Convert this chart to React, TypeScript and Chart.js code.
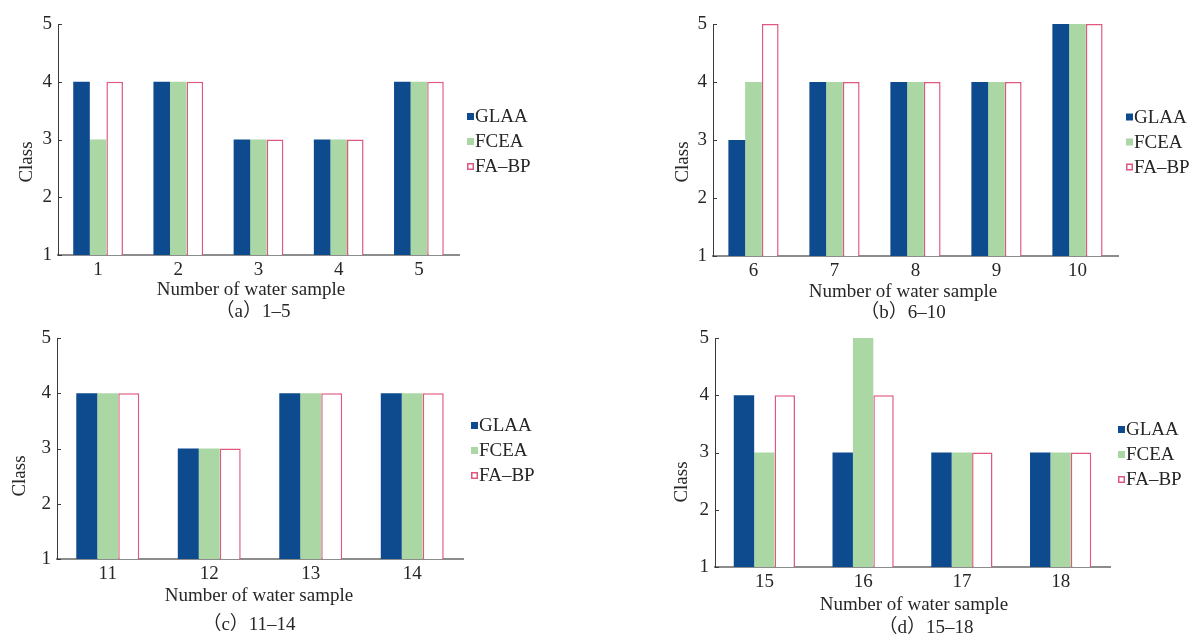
import React, { useEffect, useRef } from 'react';
import { Chart, registerables } from 'chart.js';

Chart.register(...registerables);

// ---------- data ----------
const seriesNames = ['GLAA', 'FCEA', 'FA–BP'];
const yTicks = [1, 2, 3, 4, 5];

const samplesA = ['1', '2', '3', '4', '5'];
const glaaA = [4, 4, 3, 3, 4];
const fceaA = [3, 4, 3, 3, 4];
const fabpA = [4, 4, 3, 3, 4];

const samplesB = ['6', '7', '8', '9', '10'];
const glaaB = [3, 4, 4, 4, 5];
const fceaB = [4, 4, 4, 4, 5];
const fabpB = [5, 4, 4, 4, 5];

const samplesC = ['11', '12', '13', '14'];
const glaaC = [4, 3, 4, 4];
const fceaC = [4, 3, 4, 4];
const fabpC = [4, 3, 4, 4];

const samplesD = ['15', '16', '17', '18'];
const glaaD = [4, 3, 3, 3];
const fceaD = [3, 5, 3, 3];
const fabpD = [4, 4, 3, 3];

const xAxisTitle = 'Number of water sample';
const yAxisTitle = 'Class';
const captions = ['（a）1–5', '（b）6–10', '（c）11–14', '（d）15–18'];

// ---------- style ----------
const FONT = "'Liberation Serif', 'Times New Roman', 'Noto Sans CJK SC', serif";
const TEXT = '#262626';
const FONT_SIZE = 19;
const COLORS = {
  glaa: '#0d4b8e',
  fcea: '#abd7a4',
  fabpFill: '#ffffff',
  fabpBorder: '#e0587f',
};

type Area = { l: number; t: number; r: number; b: number };
type PanelLayout = {
  left: number;
  top: number;
  width: number;
  height: number;
  area: Area;
  yTitle: [number, number];
  xTitle: [number, number];
  caption: [number, number];
};

const layouts: PanelLayout[] = [
  { left: 0, top: 0, width: 600, height: 320, area: { l: 58, t: 24, r: 459, b: 255 }, yTitle: [27, 162], xTitle: [251, 290], caption: [253, 312] },
  { left: 600, top: 0, width: 602, height: 320, area: { l: 113, t: 24, r: 518, b: 256 }, yTitle: [83, 162], xTitle: [303, 292], caption: [303, 313] },
  { left: 0, top: 320, width: 600, height: 318, area: { l: 57, t: 18, r: 463, b: 239 }, yTitle: [20, 156], xTitle: [259, 276], caption: [249, 305] },
  { left: 600, top: 320, width: 602, height: 318, area: { l: 115, t: 18, r: 510, b: 247 }, yTitle: [82, 162], xTitle: [314, 285], caption: [326, 308] },
];

type PanelProps = {
  labels: string[];
  glaa: number[];
  fcea: number[];
  fabp: number[];
  caption: string;
  layout: PanelLayout;
};

function Panel({ labels, glaa, fcea, fabp, caption, layout }: PanelProps) {
  const ref = useRef<HTMLCanvasElement>(null);

  useEffect(() => {
    if (!ref.current) return;
    const { width, height, area } = layout;

    const textPlugin = {
      id: 'panelTexts',
      afterDraw(chart: any) {
        const ctx: CanvasRenderingContext2D = chart.ctx;
        const ca = chart.chartArea;
        const ys = chart.scales.y;
        ctx.save();
        // inward tick marks on y axis
        ctx.strokeStyle = '#3a3a3a';
        ctx.lineWidth = 1;
        yTicks.forEach((v) => {
          const py = Math.round(ys.getPixelForValue(v)) + 0.5;
          ctx.beginPath();
          ctx.moveTo(ca.left, py);
          ctx.lineTo(ca.left + 4, py);
          ctx.stroke();
        });
        ctx.fillStyle = TEXT;
        ctx.font = `${FONT_SIZE}px ${FONT}`;
        ctx.textAlign = 'center';
        ctx.textBaseline = 'middle';
        ctx.fillText(xAxisTitle, layout.xTitle[0], layout.xTitle[1]);
        ctx.fillText(caption, layout.caption[0], layout.caption[1]);
        ctx.save();
        ctx.translate(layout.yTitle[0], layout.yTitle[1]);
        ctx.rotate(-Math.PI / 2);
        ctx.fillText(yAxisTitle, 0, 0);
        ctx.restore();
        // legend
        const mid = (ca.top + ca.bottom) / 2 + 2;
        chart.data.datasets.forEach((ds: any, i: number) => {
          const cy = mid + (i - 1) * 25;
          const bx = ca.right + 8;
          ctx.fillStyle = ds.backgroundColor;
          ctx.fillRect(bx, cy - 3.5, 7, 7);
          if (ds.borderWidth) {
            ctx.strokeStyle = ds.borderColor;
            ctx.lineWidth = 1.5;
            ctx.strokeRect(bx + 0.75, cy - 2.75, 5.5, 5.5);
          }
          ctx.fillStyle = TEXT;
          ctx.textAlign = 'left';
          ctx.fillText(ds.label, bx + 8, cy + 1);
        });
        ctx.restore();
      },
    };

    const chart = new Chart(ref.current, {
      type: 'bar',
      data: {
        labels,
        datasets: [
          { label: seriesNames[0], data: glaa, backgroundColor: COLORS.glaa, borderWidth: 0, categoryPercentage: 0.62, barPercentage: 1.0 },
          { label: seriesNames[1], data: fcea, backgroundColor: COLORS.fcea, borderWidth: 0, categoryPercentage: 0.62, barPercentage: 1.0 },
          { label: seriesNames[2], data: fabp, backgroundColor: COLORS.fabpFill, borderColor: COLORS.fabpBorder, borderWidth: 1.5, categoryPercentage: 0.62, barPercentage: 1.0 },
        ],
      },
      options: {
        animation: false,
        responsive: false,
        maintainAspectRatio: false,
        devicePixelRatio: 1,
        layout: { padding: { left: 0, top: area.t, right: width - area.r, bottom: 0 } },
        plugins: {
          legend: { display: false },
          tooltip: { enabled: false },
          title: { display: false },
        },
        scales: {
          x: {
            type: 'category',
            offset: true,
            grid: { display: false, drawTicks: false },
            border: { display: true, color: '#8c8c8c', width: 2 },
            ticks: { color: TEXT, font: { family: FONT, size: FONT_SIZE }, padding: 4, maxRotation: 0 },
            afterFit: (s: any) => { s.height = height - area.b; },
          },
          y: {
            type: 'linear',
            min: 1,
            max: 5,
            grid: { display: false, drawTicks: false },
            border: { display: true, color: '#3a3a3a', width: 1 },
            ticks: { color: TEXT, font: { family: FONT, size: FONT_SIZE }, padding: 6 },
            afterBuildTicks: (s: any) => { s.ticks = yTicks.map((v) => ({ value: v })); },
            afterFit: (s: any) => { s.width = area.l; },
          },
        },
      },
      plugins: [textPlugin],
    } as any);

    return () => chart.destroy();
  }, []);

  return (
    <canvas
      ref={ref}
      width={layout.width}
      height={layout.height}
      style={{ position: 'absolute', left: layout.left, top: layout.top, width: layout.width, height: layout.height }}
    />
  );
}

export default function App() {
  return (
    <div style={{ position: 'absolute', left: 0, top: 0, width: 1202, height: 638, background: '#ffffff', overflow: 'hidden' }}>
      <Panel labels={samplesA} glaa={glaaA} fcea={fceaA} fabp={fabpA} caption={captions[0]} layout={layouts[0]} />
      <Panel labels={samplesB} glaa={glaaB} fcea={fceaB} fabp={fabpB} caption={captions[1]} layout={layouts[1]} />
      <Panel labels={samplesC} glaa={glaaC} fcea={fceaC} fabp={fabpC} caption={captions[2]} layout={layouts[2]} />
      <Panel labels={samplesD} glaa={glaaD} fcea={fceaD} fabp={fabpD} caption={captions[3]} layout={layouts[3]} />
    </div>
  );
}
